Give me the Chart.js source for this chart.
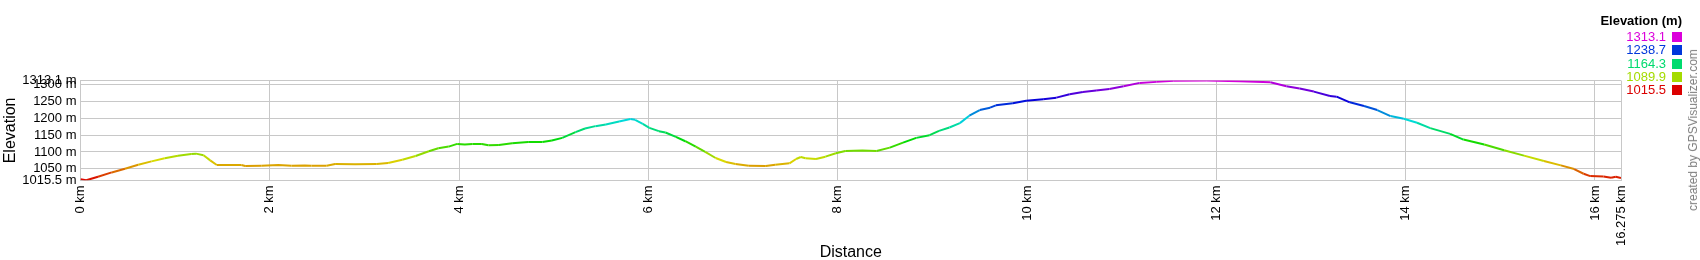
<!DOCTYPE html>
<html>
<head>
<meta charset="utf-8">
<script src="https://cdn.jsdelivr.net/npm/chart.js@4/dist/chart.umd.min.js"></script>
<style>
  body { margin: 0; background: #fff; font-family: Arial, "Liberation Sans", sans-serif; }
  #wrap { position: relative; width: 1700px; height: 260px; }
  #legend { position: absolute; left: 1590px; top: 13px; width: 92px; font-size: 13px; }
  #legend .ttl { font-weight: bold; text-align: right; line-height: 16px; margin-bottom: 1px; }
  #legend .row { text-align: right; line-height: 13.3px; height: 13.3px; }
  #legend .sq { display: inline-block; width: 10px; height: 10px; margin-left: 6px; vertical-align: -1px; }
  #credit { position: absolute; left: 1693px; top: 130px; transform: translate(-50%, -50%) rotate(-90deg);
            white-space: nowrap; font-size: 12px; color: #808080; }
</style>
</head>
<body>
<div id="wrap">
  <canvas id="profile" width="1700" height="260"></canvas>
  <div id="legend"><div class="ttl">Elevation (m)</div></div>
  <div id="credit">created by GPSVisualizer.com</div>
</div>
<script>
// distance along track (km) and elevation (m)
const distKm = [0, 0.06, 0.185, 0.33, 0.47, 0.61, 0.75, 0.89, 1.03, 1.17, 1.22, 1.30, 1.37, 1.44, 1.70, 1.74, 1.91,
  2.09, 2.23, 2.37, 2.44, 2.60, 2.69, 2.90, 3.13, 3.25, 3.40, 3.54, 3.68, 3.78, 3.89, 3.98, 4.06, 4.14, 4.24, 4.31,
  4.42, 4.56, 4.73, 4.88, 4.98, 5.09, 5.23, 5.33, 5.44, 5.55, 5.69, 5.81, 5.86, 5.94, 6.01, 6.11, 6.18, 6.29, 6.39,
  6.50, 6.60, 6.71, 6.82, 6.92, 7.06, 7.24, 7.34, 7.49, 7.56, 7.61, 7.66, 7.77, 7.87, 7.98, 8.08, 8.26, 8.41, 8.55,
  8.69, 8.83, 8.97, 9.07, 9.18, 9.29, 9.39, 9.50, 9.61, 9.67, 9.85, 9.99, 10.17, 10.31, 10.45, 10.59, 10.73, 10.87,
  11.02, 11.19, 11.37, 11.55, 11.90, 12.25, 12.57, 12.74, 12.88, 13.03, 13.20, 13.27, 13.41, 13.56, 13.70, 13.84,
  13.98, 14.12, 14.26, 14.47, 14.61, 14.83, 15.04, 15.25, 15.46, 15.64, 15.78, 15.88, 15.95, 16.09, 16.17, 16.22, 16.275];
const elevM = [1019, 1015.5, 1026, 1039, 1050, 1062, 1072, 1081, 1089, 1094, 1095, 1090, 1075, 1061, 1061, 1058, 1059,
  1061, 1059, 1060, 1059, 1059, 1064, 1063, 1064, 1067, 1077, 1088, 1102, 1111, 1116, 1124, 1122, 1124, 1124, 1120,
  1121, 1126, 1130, 1130, 1134, 1142, 1159, 1170, 1177, 1182, 1191, 1198, 1196, 1184, 1172, 1162, 1158, 1145, 1132,
  1116, 1100, 1082, 1070, 1064, 1059, 1058, 1062, 1066, 1079, 1085, 1081, 1079, 1086, 1096, 1103, 1104, 1103, 1113,
  1128, 1142, 1150, 1163, 1173, 1186, 1208, 1225, 1232, 1239, 1245, 1253, 1257, 1262, 1272, 1279, 1283, 1288,
  1296, 1306, 1309, 1312, 1313, 1311, 1308, 1296, 1289, 1280, 1267, 1265, 1248, 1237, 1225, 1207,
  1199, 1187, 1171, 1154, 1137, 1122, 1105, 1089, 1073, 1060, 1049, 1035, 1028, 1027, 1023, 1026, 1022];

const xTicks = [0, 2, 4, 6, 8, 10, 12, 14, 16, 16.275];
const yTicks = [1015.5, 1050, 1100, 1150, 1200, 1250, 1300, 1313.1];
const legendSteps = [1313.1, 1238.7, 1164.3, 1089.9, 1015.5];

const eMin = 1015.5, eMax = 1313.1;
const gridColor = '#c8c8c8';

function colorFor(e) {
  const h = 300 * Math.max(0, Math.min(1, (e - eMin) / (eMax - eMin)));
  return 'hsl(' + h.toFixed(1) + ', 100%, 43%)';
}

// legend
const legend = document.getElementById('legend');
legendSteps.forEach(v => {
  const row = document.createElement('div');
  row.className = 'row';
  row.style.color = colorFor(v);
  row.innerHTML = v.toFixed(1) + '<span class="sq" style="background:' + colorFor(v) + '"></span>';
  legend.appendChild(row);
});

const tickFont = { family: 'Arial, "Liberation Sans", sans-serif', size: 13 };
const titleFont = { family: 'Arial, "Liberation Sans", sans-serif', size: 16 };

new Chart(document.getElementById('profile'), {
  type: 'line',
  data: {
    datasets: [{
      data: distKm.map((d, i) => ({ x: d, y: elevM[i] })),
      borderWidth: 2,
      pointRadius: 0,
      tension: 0,
      fill: false,
      segment: {
        borderColor: ctx => colorFor((ctx.p0.parsed.y + ctx.p1.parsed.y) / 2)
      }
    }]
  },
  options: {
    responsive: false,
    animation: false,
    layout: { padding: { left: 0, right: 79, top: 80.5, bottom: 0 } },
    plugins: { legend: { display: false }, tooltip: { enabled: false } },
    scales: {
      x: {
        type: 'linear',
        min: 0,
        max: 16.275,
        afterBuildTicks: scale => { scale.ticks = xTicks.map(v => ({ value: v })); },
        afterFit: scale => { scale.height = 79.7; },
        grid: { color: gridColor, drawTicks: false },
        border: { color: gridColor },
        ticks: {
          autoSkip: false,
          minRotation: 90,
          maxRotation: 90,
          padding: 5,
          color: '#000',
          font: tickFont,
          callback: v => v + ' km'
        },
        title: { display: true, text: 'Distance', color: '#000', font: titleFont, padding: { top: 0, bottom: -2 } }
      },
      y: {
        min: eMin,
        max: eMax,
        afterBuildTicks: scale => { scale.ticks = yTicks.map(v => ({ value: v })); },
        afterFit: scale => { scale.width = 80.5; },
        grid: { color: gridColor, drawTicks: false },
        border: { color: gridColor },
        ticks: {
          autoSkip: false,
          padding: 4,
          color: '#000',
          font: tickFont,
          callback: v => v + ' m'
        },
        title: { display: true, text: 'Elevation', color: '#000', font: titleFont, padding: { top: 1, bottom: 0 } }
      }
    }
  }
});
</script>
</body>
</html>
